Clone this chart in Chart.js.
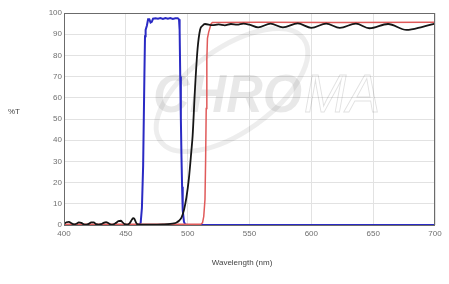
<!DOCTYPE html>
<html>
<head>
<meta charset="utf-8">
<script src="https://cdn.jsdelivr.net/npm/chart.js@4/dist/chart.umd.min.js"></script>
<style>
  html, body { margin: 0; padding: 0; background: #fff; }
  #wrap { width: 449px; height: 284px; }
</style>
</head>
<body>
<div id="wrap"><canvas id="chart" width="449" height="284"></canvas></div>
<script>
// Transmission curves (wavelength in nm, %T)

// black curve (long pass, rippled plateau)
const blackNm = [400, 402, 404, 406, 408, 410, 412, 414, 416, 418, 420, 422, 424, 426, 428, 430, 432, 434, 436, 438,
    440, 442, 444, 446, 447, 449, 451, 453, 455, 456, 457, 458, 459, 461, 470, 480, 486, 489, 491, 493,
    495, 497, 499, 501, 503, 504, 506, 508, 510, 512, 514, 520, 525, 530, 535, 540, 545, 550, 557, 567,
    577, 589, 600, 612, 623, 636, 647, 662, 677, 690, 700];
const blackT = [0.5, 1.3, 1.5, 0.8, 0.3, 0.6, 1.2, 1.0, 0.3, 0.2, 0.5, 1.2, 1.2, 0.4, 0.2, 0.4, 1.0, 1.4, 0.8, 0.2,
    0.3, 1.0, 1.8, 2.0, 1.5, 0.4, 0.2, 0.8, 2.6, 3.2, 2.8, 1.5, 0.5, 0.2, 0.2, 0.3, 0.5, 0.8, 1.2, 2.0,
    3.5, 7, 13, 22, 35, 42, 65, 83, 92, 94, 94.8, 94.3, 94.6, 94.2, 94.8, 94.5, 95, 94.5, 93.2, 95,
    93.2, 95.1, 93.0, 95, 93.0, 95, 92.8, 94.8, 92, 93.5, 95];

// red curve (steeper long pass)
const redNm = [400, 450, 500, 510, 511, 512, 513, 514, 514.5, 515, 515.5, 516, 517, 518, 519, 520, 560, 620, 700];
const redT = [0.3, 0.3, 0.3, 0.3, 0.5, 1, 4, 12, 30, 55, 78, 88, 91, 93, 95, 95.5, 95.6, 95.5, 95.6];

// blue curve (band pass)
const blueNm = [460, 461, 462, 463, 464, 465, 465.5, 466, 467, 468, 469, 470, 471, 472, 474, 476, 478, 480, 482, 484,
    486, 488, 490, 492, 493, 493.5, 494, 494.5, 495, 495.5, 496, 497, 498, 500, 700];
const blueT = [0, 0.3, 1, 8, 28, 70, 89, 92, 94, 97, 97, 95.5, 95.8, 97.3, 97.5, 97.3, 97.6, 97.2, 97.6, 97.3,
    97.6, 97.2, 97.5, 97.5, 97, 92, 70, 50, 32, 18, 7, 1.5, 0.3, 0, 0];

const xTicks = [400, 450, 500, 550, 600, 650, 700];
const yTicks = [0, 10, 20, 30, 40, 50, 60, 70, 80, 90, 100];

function pairs(xs, ys) {
    return xs.map((x, i) => ({ x: x, y: ys[i] }));
}

const FONT = '"Liberation Sans", Arial, sans-serif';

// faint logo behind the curves
const watermark = {
    id: 'watermark',
    beforeDatasetsDraw(chart) {
        const ctx = chart.ctx;
        ctx.save();
        ctx.strokeStyle = 'rgba(0,0,0,0.07)';
        ctx.lineWidth = 5;
        ctx.beginPath();
        ctx.ellipse(232, 90, 88, 42, -0.62, 0, Math.PI * 2);
        ctx.stroke();

        // squeeze the word so it spans roughly x 153..380
        ctx.font = 'italic bold 54px ' + FONT;
        const w1 = ctx.measureText('CHRO').width;
        ctx.font = 'italic 54px ' + FONT;
        const w2 = ctx.measureText('MA').width;
        const sx = 227 / (w1 + w2 + 2);
        ctx.translate(153, 112);
        ctx.scale(sx, 1);
        ctx.textBaseline = 'alphabetic';
        ctx.font = 'italic bold 54px ' + FONT;
        ctx.fillStyle = 'rgba(0,0,0,0.09)';
        ctx.fillText('CHRO', 0, 0);
        ctx.font = 'italic 54px ' + FONT;
        ctx.strokeStyle = 'rgba(0,0,0,0.12)';
        ctx.lineWidth = 1;
        ctx.strokeText('MA', w1 + 2, 0);
        ctx.restore();
    }
};

// frame round the plot and the two axis titles
const frame = {
    id: 'frame',
    afterDraw(chart) {
        const ctx = chart.ctx;
        const a = chart.chartArea;
        ctx.save();
        ctx.strokeStyle = '#6b6b6b';
        ctx.lineWidth = 1;
        ctx.strokeRect(Math.round(a.left) + 0.5, Math.round(a.top) + 0.5,
            Math.round(a.right - a.left) - 1, Math.round(a.bottom - a.top));
        ctx.fillStyle = '#444';
        ctx.font = '8px ' + FONT;
        ctx.textBaseline = 'middle';
        ctx.textAlign = 'left';
        ctx.fillText('%T', 8, 112);
        ctx.textAlign = 'center';
        ctx.fillText('Wavelength (nm)', 242, 263);
        ctx.restore();
    }
};

new Chart(document.getElementById('chart'), {
    type: 'line',
    data: {
        datasets: [
            { data: pairs(blackNm, blackT), borderColor: '#161616', borderWidth: 1.8, cubicInterpolationMode: 'monotone' },
            { data: pairs(redNm, redT), borderColor: '#e05a5a', borderWidth: 1.5 },
            { data: pairs(blueNm, blueT), borderColor: '#2a2ac4', borderWidth: 2 }
        ]
    },
    options: {
        responsive: false,
        animation: false,
        elements: { point: { radius: 0 }, line: { tension: 0 } },
        layout: { padding: { left: 0, right: 14, top: 13, bottom: 0 } },
        plugins: { legend: { display: false }, tooltip: { enabled: false } },
        scales: {
            x: {
                type: 'linear',
                min: 400,
                max: 700,
                afterBuildTicks: s => { s.ticks = xTicks.map(v => ({ value: v })); },
                afterFit: s => { s.height = 59; },
                ticks: { autoSkip: false, maxRotation: 0, padding: 4, color: '#6f6f6f', font: { size: 8, family: FONT } },
                grid: { color: '#e2e2e2', drawTicks: false },
                border: { display: false }
            },
            y: {
                min: 0,
                max: 100,
                afterBuildTicks: s => { s.ticks = yTicks.map(v => ({ value: v })); },
                afterFit: s => { s.width = 64; },
                ticks: { padding: 2, color: '#6f6f6f', font: { size: 8, family: FONT } },
                grid: { color: '#e2e2e2', drawTicks: false },
                border: { display: false }
            }
        }
    },
    plugins: [watermark, frame]
});
</script>
</body>
</html>
